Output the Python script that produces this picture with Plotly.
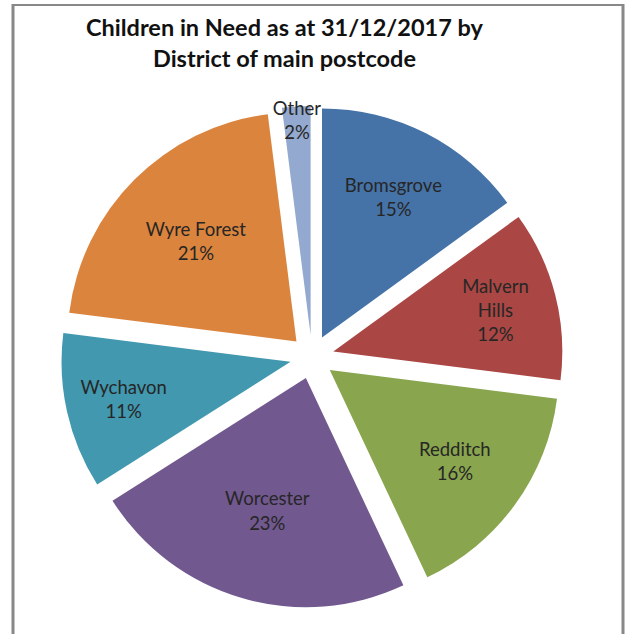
import plotly.graph_objects as go

# Children in Need by district of main postcode (percent of total)
districts = ["Bromsgrove", "Malvern Hills", "Redditch", "Worcester", "Wychavon", "Wyre Forest", "Other"]
shares = [15, 12, 16, 23, 11, 21, 2]
slice_labels = ["Bromsgrove", "Malvern<br>Hills", "Redditch", "Worcester", "Wychavon", "Wyre Forest", "Other"]
colours = ["#4572A7", "#AA4643", "#89A54E", "#71588F", "#4198AF", "#DB843D", "#93A9CF"]

W, H = 639, 634

fig = go.Figure(
    go.Pie(
        labels=districts,
        values=shares,
        text=slice_labels,
        texttemplate="%{text}<br>%{value}%",
        textinfo="text",
        sort=False,
        direction="clockwise",
        rotation=0,
        pull=[0.096] * len(shares),
        marker=dict(colors=colours, line=dict(width=0)),
        textposition="inside",
        insidetextorientation="horizontal",
        textfont=dict(family="Lato", size=18.5, color="#262626"),
        showlegend=False,
        hoverinfo="label+percent",
        domain=dict(x=[61 / W, 563 / W], y=[1 - 608 / H, 1 - 106 / H]),
    )
)

fig.update_layout(
    width=W,
    height=H,
    margin=dict(l=0, r=0, t=0, b=0),
    paper_bgcolor="white",
    uniformtext=dict(minsize=18.5, mode="show"),
    annotations=[
        dict(
            text="<b>Children in Need as at 31/12/2017 by<br>District of main postcode</b>",
            x=285 / W, y=1 - 11 / H, xref="paper", yref="paper",
            xanchor="center", yanchor="top", showarrow=False,
            font=dict(family="Lato", size=23.5, color="#111111"),
        )
    ],
    shapes=[
        dict(type="line", xref="paper", yref="paper", x0=13 / W, x1=13 / W, y0=0, y1=1 - 4 / H,
             line=dict(color="#888888", width=3)),
        dict(type="line", xref="paper", yref="paper", x0=623 / W, x1=623 / W, y0=0, y1=1 - 4 / H,
             line=dict(color="#888888", width=3)),
        dict(type="line", xref="paper", yref="paper", x0=12 / W, x1=624 / W, y0=1 - 5 / H, y1=1 - 5 / H,
             line=dict(color="#888888", width=2)),
    ],
)

fig.write_html("out.html")
